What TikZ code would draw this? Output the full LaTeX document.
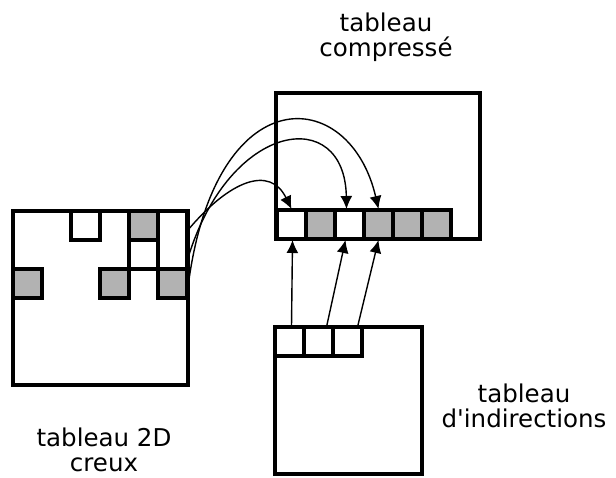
\documentclass[tikz,border=0pt]{standalone}
\usepackage{fontspec}
\setmainfont{DejaVu Sans}[Ligatures=TeXOff]
\usetikzlibrary{arrows.meta}
\begin{document}
\begin{tikzpicture}[x=1pt,y=-1pt,
  frame/.style={draw, line width=3.2pt, inner sep=0pt, outer sep=0pt, anchor=north west},
  cellw/.style={frame, fill=white, minimum width=29pt, minimum height=29pt},
  cellg/.style={cellw, fill=gray!60},
  link/.style={line width=1.4pt, -{Latex[length=13pt,width=12pt]}},
  lbl/.style={align=center, font=\fontsize{24.5}{25}\selectfont, inner sep=1pt}]
\useasboundingbox (0,0) rectangle (616,477);
% sparse 2D table
\node[frame, minimum width=175pt, minimum height=174pt] (sparse) at (13,211) {};
\node[cellw] (a13) at (71,211) {};
\node[cellg] (a15) at (129,211) {};
\node[cellw, minimum height=58pt] (a16) at (158,211) {};
\node[cellw] (a25) at (129,240) {};
\node[cellg] (a31) at (13,269) {};
\node[cellg] (a34) at (100,269) {};
\node[cellg] (a36) at (158,269) {};
% compressed table
\node[frame, minimum width=204pt, minimum height=146pt] (comp) at (276,93) {};
\node[cellw] (c1) at (277,210) {};
\node[cellg] (c2) at (306,210) {};
\node[cellw] (c3) at (335,210) {};
\node[cellg] (c4) at (364,210) {};
\node[cellg] (c5) at (393,210) {};
\node[cellg] (c6) at (422,210) {};
% indirection table
\node[frame, minimum width=147pt, minimum height=147pt] (ind) at (275,327) {};
\node[cellw] (i1) at (275,327) {};
\node[cellw] (i2) at (304,327) {};
\node[cellw] (i3) at (333,327) {};
% labels
\node[lbl] (tc) at (386,37) {tableau\\compressé};
\node[lbl] (ts) at (104,450) {tableau 2D\\creux};
\node[lbl] (ti) at (524,406) {tableau\\d'indirections};
% curve starts
\coordinate (s1) at (188,230);
\coordinate (s2) at (188,258);
\coordinate (s3) at (188,287);
\draw[link] (s1) .. controls (230,180) and (270,165) .. ([yshift=1pt]c1.north);
\draw[link] (s2) .. controls (230,120) and (345,105) .. ([xshift=-3pt,yshift=1pt]c3.north);
\draw[link] (s3) .. controls (215,75) and (350,85) .. ([yshift=1pt]c4.north);
% straight arrows
\draw[link] ([xshift=2pt]i1.north) -- ([xshift=1pt,yshift=-1pt]c1.south);
\draw[link] ([xshift=8pt]i2.north) -- ([xshift=-4pt,yshift=-1pt]c3.south);
\draw[link] ([xshift=10pt]i3.north) -- ([xshift=0pt,yshift=-1pt]c4.south);
\end{tikzpicture}
\end{document}
